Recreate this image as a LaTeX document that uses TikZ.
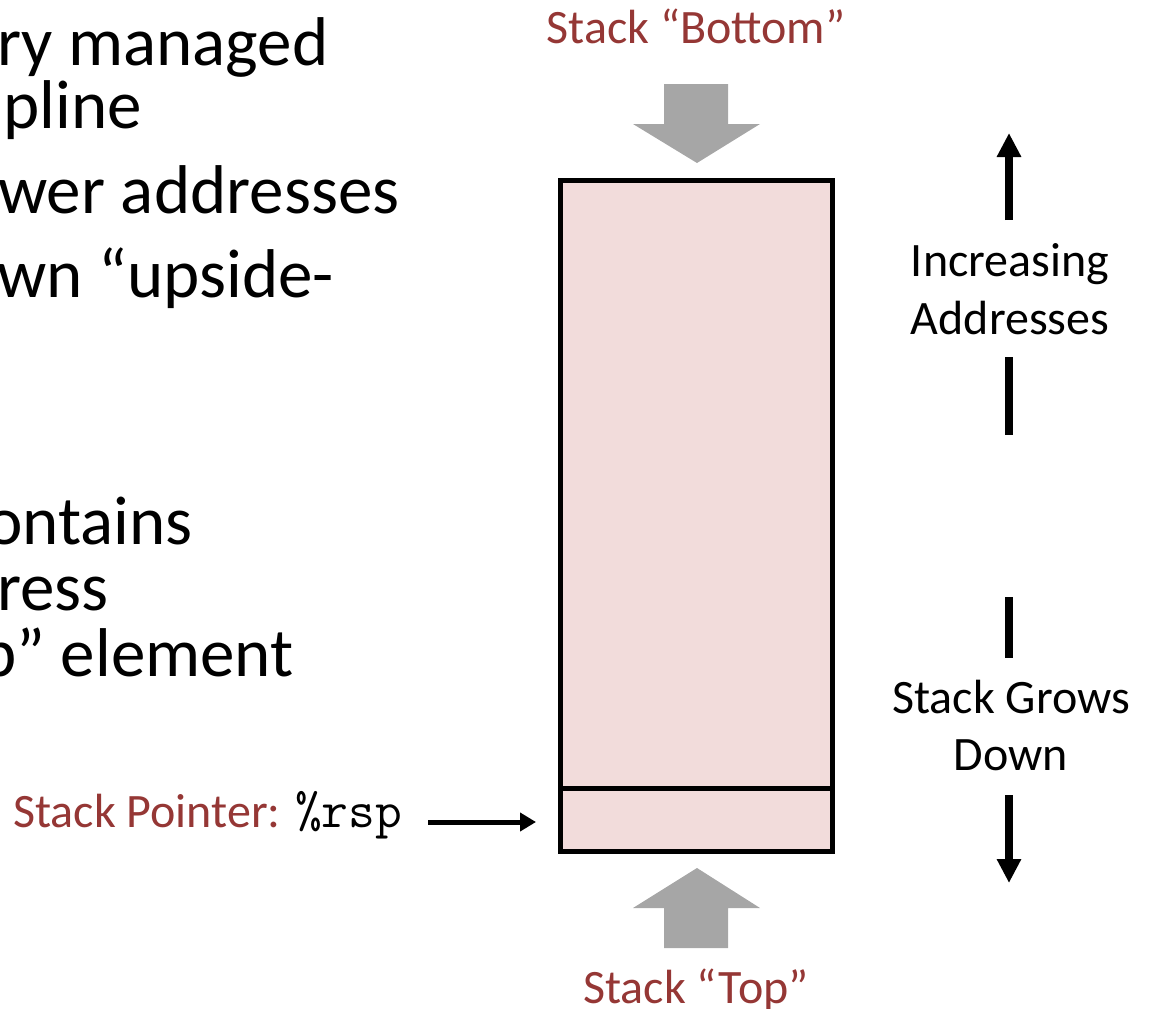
\documentclass[tikz,border=0pt]{standalone}
\usepackage{fontspec}
\setmainfont{Carlito}
\usetikzlibrary{arrows.meta}

\definecolor{labelred}{HTML}{953735}
\definecolor{stackfill}{HTML}{F2DCDB}
\definecolor{blockgray}{HTML}{A6A6A6}

\tikzset{
  bodytext/.style={anchor=base west, inner sep=0pt, font=\fontsize{69}{82}\selectfont},
  redlabel/.style={anchor=base, inner sep=0pt, text=labelred, font=\fontsize{48}{58}\selectfont},
  sidelabel/.style={anchor=base, inner sep=0pt, font=\fontsize{48}{58}\selectfont},
  stackcell/.style={draw=black, line width=5pt, fill=stackfill, minimum width=272pt, inner sep=0pt},
  blockarrow/.style={fill=blockgray, draw=none},
  dirline/.style={line width=8pt, line cap=butt},
  dirarrow/.style={line width=8pt, -{Triangle[length=24pt, width=23pt]}},
  ptrarrow/.style={line width=5pt, -{Triangle[length=16pt, width=18pt]}}
}

\begin{document}
\begin{tikzpicture}[x=1pt, y=-1pt]
  \useasboundingbox (0,0) rectangle (1149,1009);
  \clip (0,0) rectangle (1149,1009);

  % bullet text running in from the left
  \node[bodytext] (l1) at (-3,65)  {ry managed};
  \node[bodytext] (l2) at (3,128)  {pline};
  \node[bodytext] (l3) at (-2,213) {wer addresses};
  \node[bodytext] (l4) at (-3,297) {wn “upside-};
  \node[bodytext] (l5) at (-14,544) {ontains};
  \node[bodytext] (l6) at (-3,610) {ress};
  \node[bodytext] (l7) at (-20,676) {p” element};

  % the stack
  \node[stackcell, minimum height=608pt] (body) at (696.5,484.5) {};
  \node[stackcell, minimum height=63pt]  (slot) at (696.5,820) {};

  % bottom / top block arrows
  \node[redlabel] (bottomlbl) at (696,43) {Stack “Bottom”};
  \fill[blockarrow] (664,84) -- (728,84) -- (728,124) -- (760,124) -- (697,163)
                    -- (633,124) -- (664,124) -- cycle;
  \fill[blockarrow] (697,868) -- (760,908) -- (728,908) -- (728,948) -- (664,948)
                    -- (664,908) -- (633,908) -- cycle;
  \node[redlabel] (toplbl) at (696,1003) {Stack “Top”};

  % stack pointer
  \node[anchor=base west, inner sep=0pt, text=labelred, font=\fontsize{48}{58}\selectfont]
    (sp) at (13,827) {Stack Pointer: {\ttfamily\fontsize{52}{58}\selectfont\color{black}\%rsp}};
  \coordinate (ptrtail) at (428,822);
  \coordinate (ptrtip)  at (536,822);
  \draw[ptrarrow] (ptrtail) -- (ptrtip);

  % address direction
  \node[sidelabel] (inc1) at (1010,276) {Increasing};
  \node[sidelabel] (inc2) at (1010,334) {Addresses};
  \coordinate (upfoot) at (1009,220);
  \coordinate (uptip)  at (1009,133);
  \draw[dirarrow] (upfoot) -- (uptip);
  \coordinate (seg1a) at (1009,357);
  \coordinate (seg1b) at (1009,435);
  \draw[dirline] (seg1a) -- (seg1b);

  % growth direction
  \coordinate (seg2a) at (1009,597);
  \coordinate (seg2b) at (1009,658);
  \draw[dirline] (seg2a) -- (seg2b);
  \node[sidelabel] (grow1) at (1011,713) {Stack Grows};
  \node[sidelabel] (grow2) at (1011,770) {Down};
  \coordinate (downfoot) at (1009,795);
  \coordinate (downtip)  at (1009,883);
  \draw[dirarrow] (downfoot) -- (downtip);
\end{tikzpicture}
\end{document}
